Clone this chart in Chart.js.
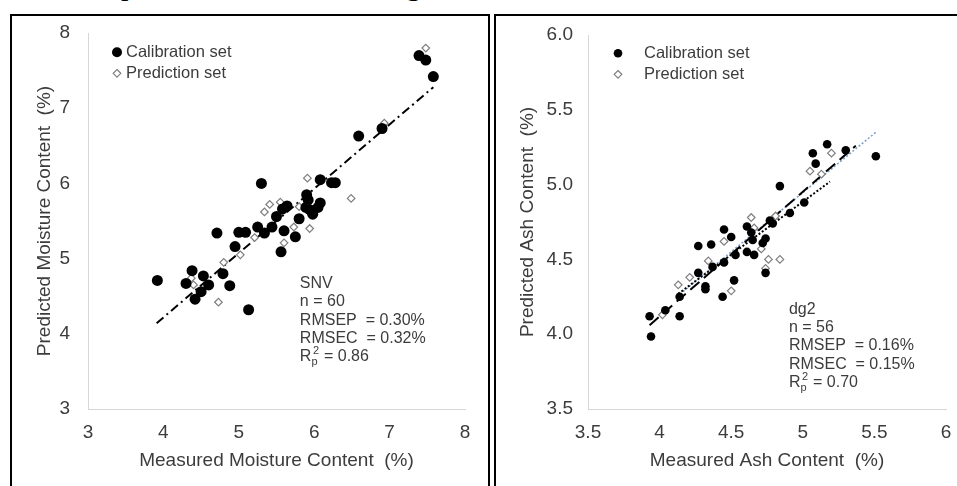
<!DOCTYPE html>
<html>
<head>
<meta charset="utf-8">
<script src="https://cdn.jsdelivr.net/npm/chart.js@4.4.1/dist/chart.umd.min.js"></script>
<style>
  html, body { margin: 0; padding: 0; background: #fff; width: 957px; height: 486px; overflow: hidden; }
  .caption { position: absolute; top: -30px; font: 30px "Liberation Serif", serif; line-height: 1; color: #000; }
  .panel { position: absolute; top: 14px; width: 476px; height: 480px; border: 2px solid #000; }
  .panel canvas { display: block; }
</style>
</head>
<body>
<span class="caption" style="left:121px">p</span>
<span class="caption" style="left:406px">g</span>
<div class="panel" style="left:10px"><canvas id="moisture" width="476" height="470"></canvas></div>
<div class="panel" style="left:494px"><canvas id="ash" width="476" height="470"></canvas></div>

<script>
// Moisture (SNV) - calibration set
const moistCalX = [3.92, 4.30, 4.38, 4.42, 4.50, 4.53, 4.60, 4.71, 4.79, 4.88, 4.95, 5.00, 5.09, 5.13,
  5.25, 5.30, 5.34, 5.44, 5.50, 5.56, 5.58, 5.60, 5.64, 5.75, 5.80, 5.90, 5.89, 5.92, 5.94, 5.98,
  6.05, 6.08, 6.08, 6.23, 6.28, 6.59, 6.90, 7.39, 7.48, 7.58];
const moistCalY = [4.71, 4.67, 4.84, 4.46, 4.56, 4.77, 4.65, 5.34, 4.80, 4.64, 5.16, 5.35, 5.35, 4.32,
  5.42, 6.00, 5.34, 5.42, 5.56, 5.09, 5.66, 5.37, 5.70, 5.29, 5.53, 5.85, 5.68, 5.78, 5.65, 5.59,
  5.68, 5.74, 6.05, 6.01, 6.01, 6.63, 6.73, 7.70, 7.64, 7.42];
// Moisture - prediction set
const moistPredX = [4.37, 4.40, 4.73, 4.80, 5.02, 5.21, 5.34, 5.41, 5.55, 5.60, 5.73, 5.80, 5.91, 5.94, 6.49, 6.93, 7.48];
const moistPredY = [4.74, 4.65, 4.42, 4.95, 5.05, 5.28, 5.62, 5.72, 5.75, 5.21, 5.42, 5.69, 6.07, 5.40, 5.80, 6.80, 7.80];
// Moisture fit line ends
const moistFitX = [3.91, 7.58];
const moistFitY = [4.14, 7.28];
const moistXTicks = ['3', '4', '5', '6', '7', '8'];
const moistYTicks = ['3', '4', '5', '6', '7', '8'];

// Ash (dg2) - calibration set
const ashCalX = [3.93, 3.94, 4.04, 4.14, 4.14, 4.27, 4.27, 4.32, 4.32, 4.36, 4.37, 4.44, 4.45, 4.45,
  4.50, 4.52, 4.53, 4.61, 4.61, 4.64, 4.65, 4.66, 4.72, 4.74, 4.74, 4.77, 4.79, 4.84, 4.91, 5.01,
  5.07, 5.09, 5.17, 5.30, 5.51];
const ashCalY = [4.12, 3.985, 4.16, 4.12, 4.25, 4.41, 4.59, 4.32, 4.30, 4.60, 4.45, 4.25, 4.70, 4.48,
  4.65, 4.36, 4.53, 4.72, 4.55, 4.68, 4.63, 4.53, 4.61, 4.64, 4.41, 4.76, 4.74, 4.99, 4.81, 4.88,
  5.21, 5.14, 5.27, 5.23, 5.19];
// Ash - prediction set
const ashPredX = [4.02, 4.13, 4.21, 4.34, 4.45, 4.50, 4.64, 4.66, 4.71, 4.74, 4.76, 4.81, 4.84, 5.05, 5.13, 5.20];
const ashPredY = [4.13, 4.33, 4.38, 4.49, 4.62, 4.29, 4.78, 4.71, 4.57, 4.44, 4.50, 4.79, 4.50, 5.09, 5.07, 5.21];
// Ash fit lines
const ashFitAX = [3.93, 5.37];
const ashFitAY = [4.06, 5.26];
const ashFitBX = [4.13, 5.19];
const ashFitBY = [4.27, 5.02];
const ashFitCX = [4.12, 5.51];
const ashFitCY = [4.25, 5.35];
const ashXTicks = ['3.5', '4', '4.5', '5', '5.5', '6'];
const ashYTicks = ['3.5', '4.0', '4.5', '5.0', '5.5', '6.0'];

const FONT = '"Liberation Sans", Arial, sans-serif';
const TEXT = '#3c3c3c';
Chart.defaults.font.family = FONT;

const pts = (xs, ys) => xs.map((x, i) => ({ x: x, y: ys[i] }));

// legend + stats box drawn inside the plot
const panelText = {
  id: 'panelText',
  afterDraw(chart, args, o) {
    const { ctx, chartArea } = chart;
    ctx.save();
    ctx.font = '16.5px ' + FONT;
    ctx.textBaseline = 'middle';
    [0, 1].forEach(i => {
      const ds = chart.data.datasets[i];
      const x = chartArea.left + o.markerX;
      const y = chartArea.top + o.legendY + i * 21;
      ctx.beginPath();
      if (ds.pointStyle === 'circle') {
        ctx.arc(x, y, o.legendR, 0, Math.PI * 2);
        ctx.fillStyle = ds.backgroundColor;
        ctx.fill();
      } else {
        const r = 3.8;
        ctx.moveTo(x, y - r); ctx.lineTo(x + r, y); ctx.lineTo(x, y + r); ctx.lineTo(x - r, y); ctx.closePath();
        ctx.fillStyle = '#fff'; ctx.fill();
        ctx.strokeStyle = ds.borderColor; ctx.lineWidth = 1.2; ctx.stroke();
      }
      ctx.fillStyle = TEXT;
      ctx.fillText(ds.label, chartArea.left + o.textX, y);
    });

    ctx.textBaseline = 'alphabetic';
    ctx.font = '16px ' + FONT;
    const sx = chart.scales.x.getPixelForValue(o.statsAt[0]);
    let sy = chart.scales.y.getPixelForValue(o.statsAt[1]);
    o.stats.forEach(line => { ctx.fillText(line, sx, sy); sy += 18.3; });
    // R_p^2 line
    ctx.fillText('R', sx, sy);
    const rw = ctx.measureText('R').width;
    ctx.font = '11px ' + FONT;
    ctx.fillText('p', sx + rw, sy + 4);
    ctx.fillText('2', sx + rw + 1.5, sy - 7);
    const sw = ctx.measureText('p').width + 2;
    ctx.font = '16px ' + FONT;
    ctx.fillText(' = ' + o.r2, sx + rw + sw, sy);
    ctx.restore();
  }
};

function makeChart(id, s) {
  const fits = s.fits.map(f => ({
    label: '', data: pts(f.x, f.y), showLine: true, pointRadius: 0,
    borderColor: f.color, borderWidth: f.width, borderDash: f.dash, fill: false
  }));
  const axis = (min, max, step, labels, title, extra) => Object.assign({
    type: 'linear', min: min, max: max,
    ticks: { stepSize: step, color: TEXT, font: { size: 19 }, callback: (v, i) => labels[i] },
    grid: { display: false, drawTicks: false },
    border: { display: true, color: '#d6d6d6', width: 1 },
    title: { display: true, text: title, color: TEXT, font: { size: 19 } }
  }, extra);

  // fixed axis boxes so the plot area lands where the original has it
  const xAxis = axis(s.xMin, s.xMax, s.xStep, s.xTicks, s.xTitle, {
    afterFit: sc => { sc.height = 77; sc.paddingLeft = 0; sc.paddingRight = 0; }
  });
  xAxis.ticks.padding = 12.6;
  xAxis.title.padding = { top: 0, bottom: 13.6 };
  const yAxis = axis(s.yMin, s.yMax, s.yStep, s.yTicks, s.yTitle, {
    afterFit: sc => { sc.width = s.yWidth; sc.paddingTop = 0; sc.paddingBottom = 0; }
  });
  yAxis.ticks.padding = s.yPad;
  yAxis.title.padding = { top: s.yTitlePad, bottom: 0 };

  return new Chart(document.getElementById(id), {
    type: 'scatter',
    data: {
      datasets: [
        { label: 'Calibration set', data: pts(s.calX, s.calY), pointStyle: 'circle', pointRadius: s.dotR,
          backgroundColor: '#000', borderColor: '#000', borderWidth: 0 },
        { label: 'Prediction set', data: pts(s.predX, s.predY), pointStyle: 'rectRot', pointRadius: 3.8,
          backgroundColor: '#fff', borderColor: '#7f7f7f', borderWidth: 1.2 }
      ].concat(fits)
    },
    options: {
      responsive: false,
      animation: false,
      layout: { padding: s.pad },
      plugins: { legend: { display: false }, tooltip: { enabled: false }, panelText: s.text },
      scales: { x: xAxis, y: yAxis }
    },
    plugins: [panelText]
  });
}

makeChart('moisture', {
  calX: moistCalX, calY: moistCalY, predX: moistPredX, predY: moistPredY, dotR: 5.5,
  fits: [{ x: moistFitX, y: moistFitY, color: '#000', width: 2, dash: [9, 4, 2, 4] }],
  xMin: 3, xMax: 8, xStep: 1, xTicks: moistXTicks, xTitle: 'Measured Moisture Content  (%)',
  yMin: 3, yMax: 8, yStep: 1, yTicks: moistYTicks, yTitle: 'Predicted Moisture Content  (%)',
  yWidth: 76, yPad: 18, yTitlePad: 21.6,
  pad: { left: 0, top: 17, right: 23, bottom: 0 },
  text: { markerX: 29, textX: 38, legendY: 19.3, legendR: 5,
    statsAt: [5.81, 4.61], stats: ['SNV', 'n = 60', 'RMSEP  = 0.30%', 'RMSEC  = 0.32%'], r2: '0.86' }
});

makeChart('ash', {
  calX: ashCalX, calY: ashCalY, predX: ashPredX, predY: ashPredY, dotR: 4.3,
  fits: [
    { x: ashFitAX, y: ashFitAY, color: '#000', width: 2, dash: [12, 6] },
    { x: ashFitBX, y: ashFitBY, color: '#000', width: 2, dash: [2, 2] },
    { x: ashFitCX, y: ashFitCY, color: '#7a9cc6', width: 1.5, dash: [2, 2] }
  ],
  xMin: 3.5, xMax: 6, xStep: 0.5, xTicks: ashXTicks, xTitle: 'Measured Ash Content  (%)',
  yMin: 3.5, yMax: 6, yStep: 0.5, yTicks: ashYTicks, yTitle: 'Predicted Ash Content  (%)',
  yWidth: 92, yPad: 15, yTitlePad: 20.6,
  pad: { left: 0, top: 19, right: 26, bottom: 0 },
  text: { markerX: 30, textX: 56, legendY: 18.3, legendR: 4.3,
    statsAt: [4.903, 4.137], stats: ['dg2', 'n = 56', 'RMSEP  = 0.16%', 'RMSEC  = 0.15%'], r2: '0.70' }
});
</script>
</body>
</html>
